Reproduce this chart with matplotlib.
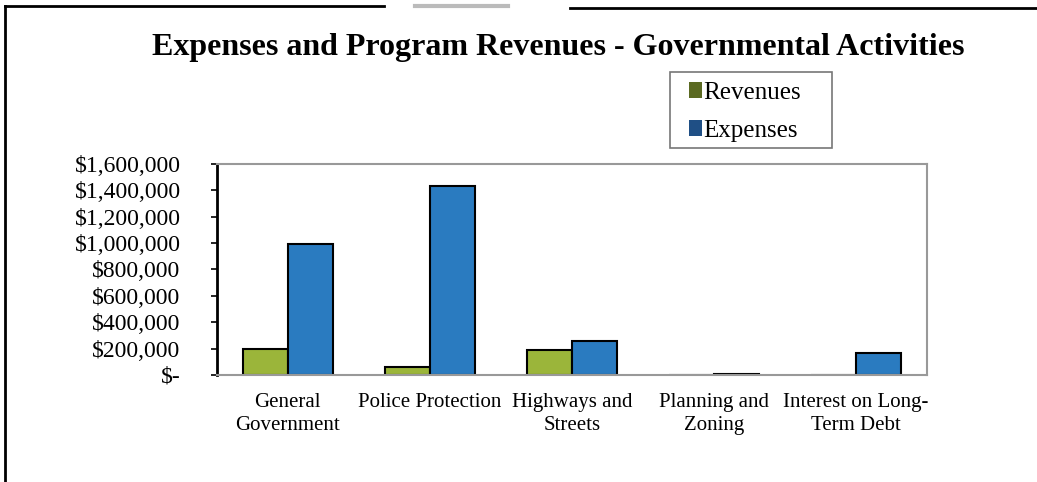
import numpy as np
import matplotlib.pyplot as plt
from matplotlib.lines import Line2D
from matplotlib.patches import Patch, Rectangle

# data
categories = ["General\nGovernment", "Police Protection", "Highways and\nStreets",
              "Planning and\nZoning", "Interest on Long-\nTerm Debt"]
revenues = [197000, 58000, 190000, 0, 0]
expenses = [993000, 1433000, 258000, 6000, 165000]
yticks = [0, 200000, 400000, 600000, 800000, 1000000, 1200000, 1400000, 1600000]
ytick_labels = ["$-", "$200,000", "$400,000", "$600,000", "$800,000",
                "$1,000,000", "$1,200,000", "$1,400,000", "$1,600,000"]

plt.rcParams['font.family'] = ['Liberation Serif', 'DejaVu Serif']

fig = plt.figure(figsize=(10.37, 4.82), dpi=100)
ax = fig.add_axes([0.209, 0.222, 0.685, 0.438])

x = np.arange(len(categories))
w = 0.315
ax.bar(x - w/2, revenues, w, color='#9bb53a', edgecolor='black', linewidth=1.5)
ax.bar(x + w/2, expenses, w, color='#2a7bc0', edgecolor='black', linewidth=1.5)

ax.set_xlim(-0.5, len(categories) - 0.5)
ax.set_ylim(0, 1600000)
ax.set_yticks(yticks)
ax.set_yticklabels(ytick_labels, fontsize=17)
ax.set_xticks(x)
ax.set_xticklabels(categories, fontsize=15, linespacing=1.3)
ax.tick_params(axis='x', length=0, pad=13)
ax.tick_params(axis='y', length=4, width=1.2, pad=22)

for s in ['top', 'right', 'bottom']:
    ax.spines[s].set_color('#999999')
    ax.spines[s].set_linewidth(1.5)
ax.spines['left'].set_color('black')
ax.spines['left'].set_linewidth(2)

fig.text(0.538, 0.902, "Expenses and Program Revenues - Governmental Activities",
         ha='center', va='center', fontsize=23, fontweight='bold')

# legend: scanned swatches look darker than the bars
handles = [Patch(facecolor='#5b6a22', edgecolor='none', label='Revenues'),
           Patch(facecolor='#1f4f85', edgecolor='none', label='Expenses')]
fig.legend(handles=handles, loc='center left', bbox_to_anchor=(0.664, 0.768), fontsize=18,
           handlelength=0.55, handleheight=0.6, handletextpad=0.05,
           labelspacing=0.62, borderpad=0, borderaxespad=0, frameon=False)
fig.patches.append(Rectangle((0.646, 0.693), 0.156, 0.158, transform=fig.transFigure,
                             fill=False, edgecolor='#777777', linewidth=1.2))

# border lines of the scanned page (left and top only)
fig.add_artist(Line2D([0.005, 0.005], [0, 0.988], transform=fig.transFigure, color='black', lw=2))
fig.add_artist(Line2D([0.005, 0.37], [0.988, 0.988], transform=fig.transFigure, color='black', lw=2))
fig.add_artist(Line2D([0.40, 0.49], [0.988, 0.988], transform=fig.transFigure, color='#bbbbbb', lw=3))
fig.add_artist(Line2D([0.55, 1.0], [0.984, 0.984], transform=fig.transFigure, color='black', lw=2))

fig.savefig('out.png', dpi=100)
